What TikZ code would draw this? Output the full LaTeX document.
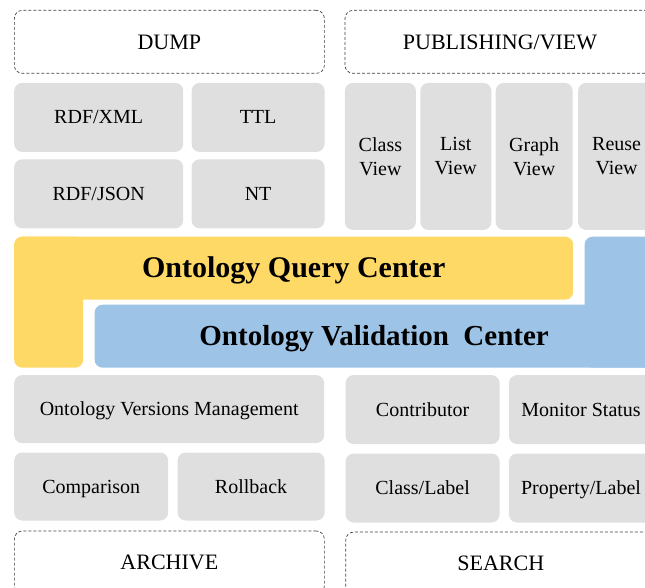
\documentclass[tikz,border=0pt]{standalone}
\usepackage{fontspec}
\setmainfont{Liberation Serif}
\usepackage{tikz}
\usetikzlibrary{positioning}
\definecolor{mGray}{RGB}{223,223,223}
\definecolor{mYellow}{RGB}{255,217,102}
\definecolor{mBlue}{RGB}{157,195,230}
\tikzstyle{head} = [draw=black!75, dash pattern=on 3pt off 2pt, line width=.7pt,
  rounded corners=8pt, minimum width=310pt, minimum height=63pt, inner sep=0pt,
  text height=16.5pt, text depth=2pt,
  font=\fontsize{22pt}{26pt}\selectfont]

\begin{document}
\begin{tikzpicture}[
    x=1pt, y=1pt,
    item/.style={
      fill=mGray,
      rounded corners=8pt,
      minimum height=69pt,
      inner sep=0pt,
      align=center,
      text height=15pt,
      text depth=1.8pt,
      font=\fontsize{20pt}{24pt}\selectfont,
    },
    vitem/.style={
      item,
      minimum width=71pt,
      minimum height=147pt,
      text height=,
      text depth=,
    },
    center/.style={
      rounded corners=8pt,
      minimum width=559pt,
      minimum height=63pt,
      inner sep=0pt,
      text height=21.5pt,
      text depth=2.3pt,
      font=\fontsize{29pt}{34pt}\selectfont\bfseries,
    },
  ]
  \useasboundingbox (0,0) rectangle (645,-588);
  \clip (0,0) rectangle (645,-588);

  \node[head,anchor=north west] (dump) at (14,-10) {DUMP};
  \node[head,right=20pt of dump] (pub) {PUBLISHING/VIEW};

  \node[item,minimum width=169pt,below=9pt of dump.south west,anchor=north west] (rdfxml) {RDF/XML};
  \node[item,minimum width=133pt,right=8pt of rdfxml] (ttl) {TTL};
  \node[item,minimum width=169pt,below=7pt of rdfxml] (rdfjson) {RDF/JSON};
  \node[item,minimum width=133pt,below=7pt of ttl] (nt) {NT};

  \node[vitem,below=9pt of pub.south west,anchor=north west] (classview) {Class\\View};
  \node[vitem,right=4pt of classview] (listview) {List\\View};
  \node[vitem,minimum width=77pt,right=4pt of listview] (graphview) {Graph\\View};
  \node[vitem,minimum width=77pt,right=5pt of graphview] (reuseview) {Reuse\\View};

  % query and validation centers
  \node[center,fill=mYellow,font=\fontsize{30pt}{34pt}\selectfont\bfseries,below=8pt of rdfjson.south west,anchor=north west] (query) {Ontology Query Center};
  \node[center,fill=mYellow,minimum width=69pt,minimum height=131pt,anchor=north west] (querycol) at (query.north west) {};
  \node[center,fill=mBlue,right=11pt of querycol.south east,anchor=south west] (valid) {Ontology Validation\ \ Center};
  \node[center,fill=mBlue,minimum width=69pt,minimum height=131pt,anchor=south east] (validcol) at (valid.south east) {};

  \node[item,minimum width=310pt,minimum height=68pt,below=7pt of querycol.south west,anchor=north west] (versions) {Ontology Versions Management};
  \node[item,minimum width=154pt,minimum height=68pt,below=9pt of versions.south west,anchor=north west] (compare) {Comparison};
  \node[item,minimum width=147pt,minimum height=68pt,right=9pt of compare] (rollback) {Rollback};
  \node[head,below=10pt of compare.south west,anchor=north west] (archive) {ARCHIVE};

  \node[item,minimum width=154pt,right=21pt of versions.north east,anchor=north west] (contrib) {Contributor};
  \node[item,minimum width=144pt,right=9pt of contrib] (monitor) {Monitor Status};
  \node[item,minimum width=154pt,below=9pt of contrib] (classlabel) {Class/Label};
  \node[item,minimum width=144pt,below=9pt of monitor] (proplabel) {Property/Label};
  \node[head,below=9pt of classlabel.south west,anchor=north west] (search) {SEARCH};

\end{tikzpicture}
\end{document}
